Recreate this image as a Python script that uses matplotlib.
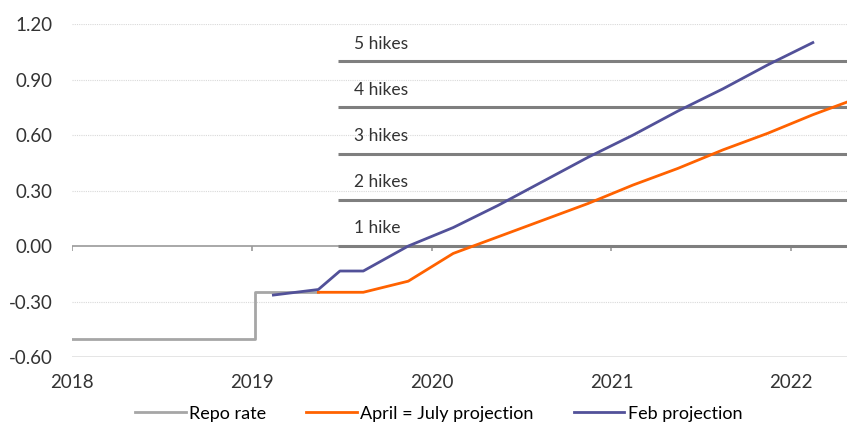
import matplotlib.pyplot as plt

plt.rcParams['font.family'] = ['Lato', 'DejaVu Sans']

# Repo rate (step)
repo_x = [2018.0, 2019.02, 2019.02, 2019.37]
repo_y = [-0.50, -0.50, -0.25, -0.25]

# April = July projection
july_x = [2019.37, 2019.62, 2019.87, 2020.12, 2020.37, 2020.62, 2020.87,
          2021.12, 2021.37, 2021.62, 2021.87, 2022.12, 2022.37]
july_y = [-0.25, -0.25, -0.19, -0.04, 0.05, 0.14, 0.23,
          0.33, 0.42, 0.52, 0.61, 0.71, 0.80]

# Feb projection
feb_x = [2019.12, 2019.37, 2019.49, 2019.62, 2019.87, 2020.12, 2020.37,
         2020.62, 2020.87, 2021.12, 2021.37, 2021.62, 2021.87, 2022.12]
feb_y = [-0.265, -0.235, -0.135, -0.135, 0.0, 0.10, 0.22,
         0.35, 0.48, 0.60, 0.73, 0.85, 0.98, 1.10]

hike_levels = [0.0, 0.25, 0.50, 0.75, 1.00]
hike_labels = ["1 hike", "2 hikes", "3 hikes", "4 hikes", "5 hikes"]
hike_start = 2019.48

years = [2018, 2019, 2020, 2021, 2022]
yticks = [-0.60, -0.30, 0.00, 0.30, 0.60, 0.90, 1.20]

fig = plt.figure(figsize=(8.47, 4.23), dpi=100)
ax = fig.add_axes([0.085, 0.156, 0.915, 0.787])

ax.set_xlim(2018, 2022.31)
ax.set_ylim(-0.6, 1.2)

# gridlines
for v in yticks:
    if v == 0.0:
        continue
    if v == -0.60:
        ax.axhline(v, color="#e0e0e0", lw=1.2, zorder=1)
    else:
        ax.axhline(v, color="#d9d9d9", lw=0.8, ls=(0, (1, 1)), zorder=1)

# zero axis with year ticks
ax.axhline(0, color="#9a9a9a", lw=1.2, zorder=2)
ax.vlines(years, -0.025, 0, color="#9a9a9a", lw=1.2, zorder=2)

# hike levels
for lvl, lab in zip(hike_levels, hike_labels):
    ax.plot([hike_start, 2022.31], [lvl, lvl], color="#7f7f7f", lw=2.2,
            zorder=3, solid_capstyle="butt")
    ax.text(hike_start + 0.09, lvl + 0.095, lab, fontsize=12.5, color="#333333",
            va="center", ha="left")

ax.plot(repo_x, repo_y, color="#a6a6a6", lw=2, label="Repo rate", zorder=4)
ax.plot(july_x, july_y, color="#ff6200", lw=2, label="April = July projection", zorder=5)
ax.plot(feb_x, feb_y, color="#525199", lw=2, label="Feb projection", zorder=6)

ax.set_yticks(yticks)
ax.set_yticklabels([f"{v:.2f}" for v in yticks])
ax.set_xticks(years)
ax.set_xticklabels([str(y) for y in years])
ax.tick_params(axis="both", length=0, labelsize=13.5, colors="#333333")
ax.tick_params(axis="y", pad=14)
ax.tick_params(axis="x", pad=12)
for s in ax.spines.values():
    s.set_visible(False)

fig.legend(loc="center", bbox_to_anchor=(0.518, 0.022), ncol=3, frameon=False,
           fontsize=13, handlelength=2.8, columnspacing=2.2, handletextpad=0.2)

fig.savefig("out.png", dpi=100)
